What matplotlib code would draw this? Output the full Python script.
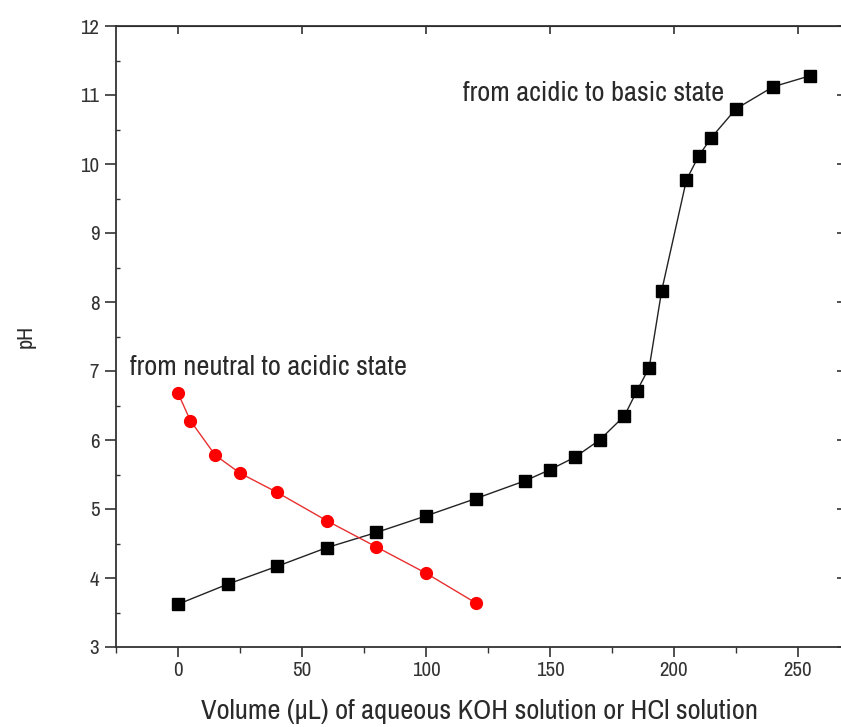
import matplotlib
matplotlib.use("Agg")
import matplotlib.pyplot as plt
from matplotlib.ticker import MultipleLocator

# Titration of the base solution with KOH (acidic -> basic)
koh_volume = [0, 20, 40, 60, 80, 100, 120, 140, 150, 160, 170, 180, 185, 190,
              195, 205, 210, 215, 225, 240, 255]
koh_ph = [3.62, 3.91, 4.17, 4.44, 4.66, 4.90, 5.15, 5.41, 5.57, 5.75, 6.00,
          6.35, 6.71, 7.05, 8.16, 9.77, 10.12, 10.38, 10.80, 11.12, 11.28]

# Titration with HCl (neutral -> acidic)
hcl_volume = [0, 5, 15, 25, 40, 60, 80, 100, 120]
hcl_ph = [6.68, 6.28, 5.78, 5.52, 5.24, 4.83, 4.45, 4.07, 3.64]

x_ticks = [0, 50, 100, 150, 200, 250]
y_ticks = [3, 4, 5, 6, 7, 8, 9, 10, 11, 12]

FONT = ["Liberation Sans Narrow", "Archivo Narrow", "Liberation Sans", "DejaVu Sans"]
plt.rcParams["font.family"] = FONT

fig = plt.figure(figsize=(8.41, 7.27), dpi=100)
ax = fig.add_axes([116 / 841, 1 - 647 / 727, 1 - 116 / 841 + 0.002, (647 - 26) / 727])

ax.plot(koh_volume, koh_ph, color="#222222", lw=1.0, marker="s", ms=8.5,
        mfc="black", mec="black", zorder=3)
ax.plot(hcl_volume, hcl_ph, color="#e83030", lw=1.0, marker="o", ms=8.5,
        mfc="#ff0000", mec="#ff0000", zorder=3)

ax.set_xlim(-25, 268)
ax.set_ylim(3, 12)
ax.set_xticks(x_ticks)
ax.set_yticks(y_ticks)
ax.xaxis.set_minor_locator(MultipleLocator(25))
ax.yaxis.set_minor_locator(MultipleLocator(0.5))

for s in ax.spines.values():
    s.set_color("#333333")
    s.set_linewidth(1.3)

ax.tick_params(axis="x", which="major", direction="out", length=7, width=1.2,
               colors="#333333", labelsize=15, pad=3, top=False)
ax.tick_params(axis="x", which="minor", direction="out", length=4, width=1.0,
               colors="#333333", top=False)
ax.tick_params(axis="y", which="major", direction="out", length=8, width=1.2,
               colors="#333333", labelsize=15, pad=4)
ax.tick_params(axis="y", which="minor", direction="in", length=3, width=1.0,
               colors="#333333")

# Inward ticks on the top and right edges
top = ax.secondary_xaxis("top")
top.set_xticks(x_ticks)
top.tick_params(direction="in", length=6, width=1.2, colors="#333333",
                labeltop=False)
right = ax.secondary_yaxis("right")
right.set_yticks(y_ticks)
right.tick_params(direction="in", length=4, width=1.2, colors="#333333",
                  labelright=False)

ax.set_xlabel("Volume (µL) of aqueous KOH solution or HCl solution",
              fontsize=20.5, color="#2a2a2a", labelpad=14)
ax.set_ylabel("pH", fontsize=16, color="#2a2a2a", labelpad=32)

ax.text(-19.5, 7.05, "from neutral to acidic state", fontsize=20.5,
        color="#2a2a2a", ha="left", va="center")
ax.text(220, 11.02, "from acidic to basic state", fontsize=20.5,
        color="#2a2a2a", ha="right", va="center")

fig.savefig("out.png", dpi=100)
